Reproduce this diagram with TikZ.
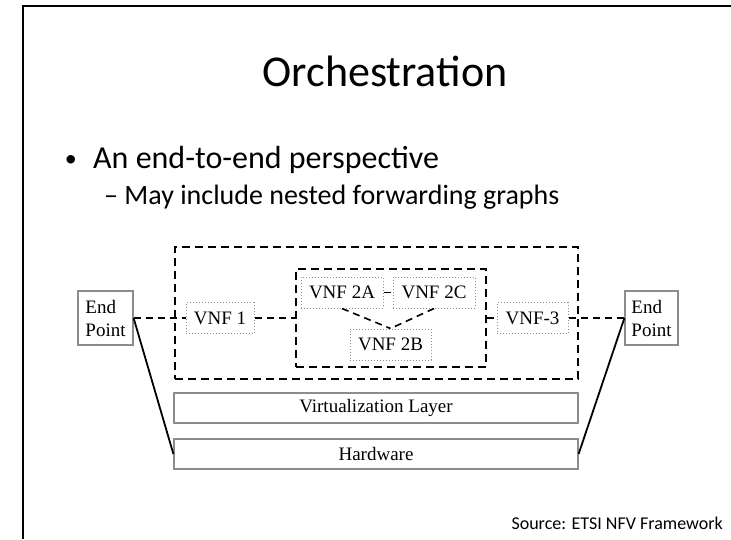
\documentclass[tikz,border=0pt]{standalone}
\usepackage{fontspec}
\setmainfont{Liberation Serif}
\newfontfamily\slidefont{Carlito}
\usetikzlibrary{positioning}

\begin{document}
\begin{tikzpicture}[
  x=1pt, y=-1pt, font=\fontsize{19}{23}\selectfont,
  box/.style={draw=black!45, line width=1.2pt, inner sep=0pt, align=center},
  ep/.style={box, align=left, minimum width=55pt, minimum height=54pt},
  layer/.style={box, minimum width=404pt, minimum height=30pt},
  vnf/.style={draw=black!45, dotted, line width=1pt, inner sep=0pt, minimum height=31pt},
  fg/.style={draw, line width=2pt, dash pattern=on 8pt off 5pt, inner sep=0pt},
  link/.style={line width=1.6pt, dash pattern=on 7pt off 5pt},
  slide/.style={font=\slidefont, inner sep=0pt, anchor=base west}]
\useasboundingbox (0,0) rectangle (731,539);
\draw[line width=2pt] (23,539) -- (23,6) -- (731,6);
\node[slide, anchor=base, font=\slidefont\fontsize{44}{48}\selectfont] (title) at (385,86) {Orchestration};
\node[slide, font=\slidefont\fontsize{32}{36}\selectfont] (item) at (93,168) {An end-to-end perspective};
\node[slide, font=\slidefont\fontsize{24}{28}\selectfont, anchor=base east] (dot) at (77,166) {\textbullet};
\node[slide, font=\slidefont\fontsize{28}{32}\selectfont] (subitem) at (104,204) {– May include nested forwarding graphs};
\node[slide, font=\slidefont\fontsize{18}{22}\selectfont, anchor=east] (src) at (723,523) {Source: ETSI NFV Framework};
\node[fg, minimum width=403pt, minimum height=132pt] (outer) at (376.5,313) {};
\node[fg, minimum width=190pt, minimum height=98pt] (inner) at (391,318) {};
\node[ep] (epl) at (105.5,318) {End\\Point};
\node[ep, minimum width=53pt] (epr) at (651.5,318) {End\\Point};
\node[vnf, minimum width=68pt] (vnf1) at (220,318) {VNF 1};
\node[vnf, minimum width=82pt] (vnf2a) at (342,292.5) {VNF 2A};
\node[vnf, minimum width=82pt] (vnf2c) at (434,292.5) {VNF 2C};
\node[vnf, minimum width=81pt] (vnf2b) at (390.5,344.5) {VNF 2B};
\node[vnf, minimum width=71pt] (vnf3) at (532.5,318) {VNF-3};
\node[layer] (virt) at (376,408) {Virtualization Layer};
\node[layer] (hw) at (376,454) {Hardware};
\draw[link] (epl) -- (vnf1);
\draw[link] (vnf1) -- (inner.west);
\draw[link] (inner.east) -- (vnf3);
\draw[link] (vnf3) -- (epr);
\draw[link] (vnf2a) -- (vnf2c);
\draw[link] (vnf2a.south) -- (vnf2b.north);
\draw[link] (vnf2c.south) -- (vnf2b.north);
\draw[line width=1.8pt] (epl.east) -- (hw.west);
\draw[line width=1.8pt] (epr.west) -- (hw.east);
\end{tikzpicture}
\end{document}
